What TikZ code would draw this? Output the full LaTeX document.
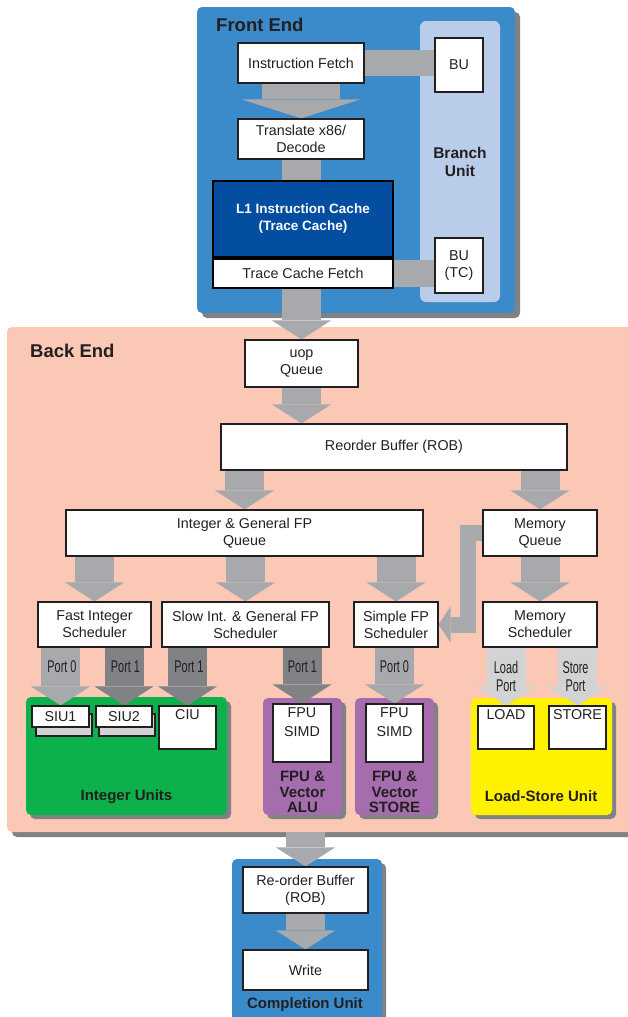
\documentclass[tikz,border=0pt]{standalone}
\usepackage{fontspec}
\setmainfont{Liberation Sans}
\newfontfamily\portfont[FakeStretch=0.64]{Liberation Sans}
\usepackage{xcolor}
\usepackage{tikz}
\usetikzlibrary{arrows.meta,shadows,calc}
\definecolor{feblue}{RGB}{59,138,202}
\definecolor{l1blue}{RGB}{4,78,162}
\definecolor{bulight}{RGB}{185,205,235}
\definecolor{salmon}{RGB}{250,200,180}
\definecolor{arrgray}{RGB}{167,169,172}
\definecolor{portdark}{RGB}{128,130,133}
\definecolor{portlight}{RGB}{209,211,212}
\definecolor{intgreen}{RGB}{13,177,75}
\definecolor{fpupurple}{RGB}{165,108,174}
\definecolor{lsyellow}{RGB}{255,242,0}
\definecolor{shadowgray}{RGB}{128,130,133}
\definecolor{ink}{RGB}{35,31,32}
\definecolor{backgray}{RGB}{209,211,212}
\pgfdeclarelayer{panels}
\pgfdeclarelayer{flows}
\pgfsetlayers{panels,flows,main}

\begin{document}
\begin{tikzpicture}[x=1pt, y=-1pt,
    box/.style       = {rectangle, draw=ink, fill=white, line width=1.1pt, inner sep=1pt,
                        align=center, text=ink, font=\fontsize{14.3}{17}\selectfont},
    sz/.style 2 args = {minimum width=#1pt, minimum height=#2pt},
    panel/.style     = {rectangle, rounded corners=5pt, inner sep=0pt,
                        drop shadow={shadow xshift=#1pt, shadow yshift=-#1pt,
                                     fill=shadowgray, opacity=1}},
    panel/.default   = 4,
    title/.style     = {anchor=west, inner sep=0pt, text=ink,
                        font=\bfseries\fontsize{18.5}{20}\selectfont},
    unitlbl/.style   = {align=center, inner sep=0pt, text=ink,
                        font=\bfseries\fontsize{15}{15.5}\selectfont},
    toptxt/.style    = {anchor=north, inner sep=4pt, align=center, text=ink,
                        font=\fontsize{14.3}{19}\selectfont},
    portlbl/.style   = {align=center, inner sep=0pt, text=ink,
                        font=\portfont\fontsize{17}{18.5}\selectfont},
    flow/.style      = {draw=#1, line width=39pt,
                        -{Triangle[length=19pt, width=59pt, line width=0pt]}},
    flow/.default    = arrgray,
    wideflow/.style  = {draw=arrgray, line width=78pt,
                        -{Triangle[length=19pt, width=118pt, line width=0pt]}},
    band/.style      = {draw=arrgray, line width=#1pt},
    sideflow/.style  = {draw=arrgray, line width=16pt, line join=miter,
                        -{Triangle[length=12pt, width=36pt, line width=0pt]}}
  ]
  \useasboundingbox (0,0) rectangle (627,1017);

  \begin{pgfonlayer}{panels}
    \node[panel=5, fill=feblue, sz={318}{306}] (fend) at (356,160) {};
    \node[rectangle, rounded corners=6pt, fill=bulight, sz={80}{281}] (bunit) at (460,161.5) {};
    \node[panel=5, fill=salmon, sz={633}{505}] (bend) at (323.5,579.5) {};
    \node[panel, fill=intgreen, sz={201}{118}] (intu) at (126.5,756) {};
    \node[panel, fill=fpupurple, sz={79}{117}] (fpalu) at (302.5,756.5) {};
    \node[panel, fill=fpupurple, sz={79}{117}] (fpst) at (394.5,756.5) {};
    \node[panel, fill=lsyellow, sz={141}{117}] (lsu) at (541.5,756.5) {};
    \node[panel, fill=feblue, sz={150}{166}] (cunit) at (307,942) {};
  \end{pgfonlayer}

  % front end
  \node[title] at (216,25) {Front End};
  \node[unitlbl, font=\bfseries\fontsize{15.5}{18}\selectfont] at (460,162) {Branch\\Unit};
  \node[box, sz={126}{40}] (ifetch) at (301,63) {Instruction Fetch};
  \node[box, sz={48}{54}]  (bu)     at (459,65) {BU};
  \node[box, sz={126}{40}] (xlate)  at (301,139) {Translate x86/\\Decode};
  \node[box, sz={180}{76}, fill=l1blue, draw=black, line width=2pt, text=white,
        font=\bfseries\fontsize{13.5}{17}\selectfont] (l1) at (303,219) {L1 Instruction Cache\\(Trace Cache)};
  \node[box, sz={180}{29}, draw=black, line width=2pt, anchor=north] (tcf) at (l1.south) {Trace Cache Fetch};
  \node[box, sz={48}{55}]  (butc)   at (459,265.5) {BU\\(TC)};

  % back end
  \node[title] at (30,351) {Back End};
  \node[box, sz={113}{47}] (uopq)   at (301.5,363.5) {uop\\Queue};
  \node[box, sz={346}{46}] (rob)    at (394,447) {Reorder Buffer (ROB)};
  \node[box, sz={357}{46}] (intq)   at (244.5,533) {Integer \& General FP\\Queue};
  \node[box, sz={114}{46}] (memq)   at (540,533) {Memory\\Queue};
  \node[box, sz={113}{45}] (fisch)  at (94.5,624.5) {Fast Integer\\Scheduler};
  \node[box, sz={167}{45}] (sisch)  at (245.5,624.5) {Slow Int. \& General FP\\Scheduler};
  \node[box, sz={84}{45}]  (sfsch)  at (396,624.5) {Simple FP\\Scheduler};
  \node[box, sz={114}{45}] (memsch) at (540,624.5) {Memory\\Scheduler};

  % execution units
  \node[box, fill=backgray, sz={56}{22}] (siu1b) at (64,725) {};
  \node[box, sz={57}{21}] (siu1) at (60.5,716.5) {SIU1};
  \node[box, fill=backgray, sz={56}{22}] (siu2b) at (127,725) {};
  \node[box, sz={56}{21}] (siu2) at (124,716.5) {SIU2};
  \node[box, sz={57}{43}, label={[toptxt]north:CIU}] (ciu) at (187.5,727.5) {};
  \node[unitlbl] at (126.5,797) {Integer Units};

  \node[box, sz={58}{58}, label={[toptxt]north:FPU\\SIMD}] (fpu1) at (302,733) {};
  \node[unitlbl] at (302.5,792) {FPU \&\\Vector\\ALU};
  \node[box, sz={57}{58}, label={[toptxt]north:FPU\\SIMD}] (fpu2) at (394.5,733) {};
  \node[unitlbl] at (394.5,792) {FPU \&\\Vector\\STORE};

  \node[box, sz={56}{43}, label={[toptxt]north:LOAD}]  (load)  at (506,727.5) {};
  \node[box, sz={57}{43}, label={[toptxt]north:STORE}] (store) at (577.5,727.5) {};
  \node[unitlbl] at (541,796) {Load-Store Unit};

  % completion
  \node[box, sz={125}{46}] (crob)  at (305.5,890) {Re-order Buffer\\(ROB)};
  \node[box, sz={125}{40}] (write) at (305.5,970) {Write};
  \node[unitlbl] at (305,1005) {Completion Unit};

  \coordinate (sfturn) at (468,0);

  \begin{pgfonlayer}{flows}
    \draw[band=26]  (ifetch.east) -- (ifetch.east -| bu.west);
    \draw[band=27]  (tcf.east) -- (tcf.east -| butc.west);
    \draw[wideflow] (ifetch.south) -- (xlate.north);
    \draw[band=39]  (xlate.south) -- (xlate.south |- l1.north);
    \draw[flow] (tcf.south -| uopq.north) -- (uopq.north);
    \draw[flow] (uopq.south) -- (uopq.south |- rob.north);
    \draw[flow] (rob.south -| intq.north) -- (intq.north);
    \draw[flow] (rob.south -| memq.north) -- (memq.north);
    \draw[flow] (intq.south -| fisch.north) -- (fisch.north);
    \draw[flow] (intq.south -| sisch.north) -- (sisch.north);
    \draw[flow] (intq.south -| sfsch.north) -- (sfsch.north);
    \draw[flow] (memq.south) -- (memsch.north);
    \draw[sideflow] (memq.west) -- (memq.west -| sfturn) -- (sfturn |- sfsch.east) -- (sfsch.east);
    % ports
    \draw[flow]           (fisch.south -| siu1.north) -- (siu1.north);
    \draw[flow=portdark]  (fisch.south -| siu2.north) -- (siu2.north);
    \draw[flow=portdark]  (sisch.south -| ciu.north) -- (ciu.north);
    \draw[flow=portdark]  (sisch.south -| fpu1.north) -- (fpu1.north);
    \draw[flow]           (sfsch.south -| fpu2.north) -- (fpu2.north);
    \draw[flow=portlight] (memsch.south -| load.north) -- (load.north);
    \draw[flow=portlight] (memsch.south -| store.north) -- (store.north);
    \draw[flow] (bend.south -| crob.north) -- (crob.north);
    \draw[flow] (crob.south) -- (write.north);
  \end{pgfonlayer}

  \node[portlbl] at (62,667)    {Port 0};
  \node[portlbl] at (125.5,667) {Port 1};
  \node[portlbl] at (189,667)   {Port 1};
  \node[portlbl] at (302.5,667) {Port 1};
  \node[portlbl] at (394.5,667) {Port 0};
  \node[portlbl] at (506,676.5) {Load\\Port};
  \node[portlbl] at (575.5,676.5) {Store\\Port};
\end{tikzpicture}
\end{document}
